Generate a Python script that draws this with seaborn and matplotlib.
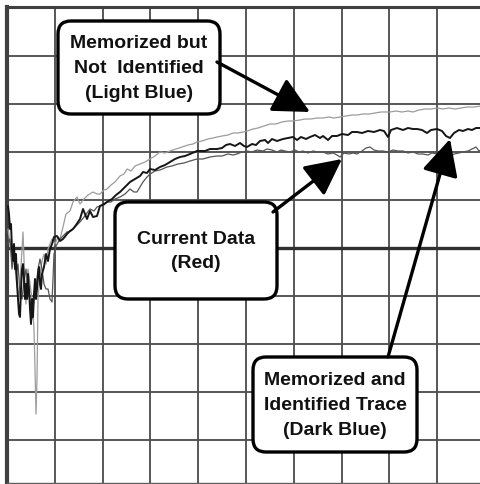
import pandas as pd
import seaborn as sns
import matplotlib
import matplotlib.pyplot as plt
from matplotlib.patches import FancyBboxPatch
from matplotlib.ticker import MultipleLocator

matplotlib.use('Agg')

# sample index across 10 divisions (47.8 samples/div), level 48 per division, 0 = reference line
light_trace = [(1, 19), (3, 4), (5, -11), (7, -6), (9, -31), (11, -41), (12, -51), (13, -36), (15, -1), (16, 16),
               (17, -11), (18, -41), (19, -56), (20, -31), (21, -21), (23, -36), (25, -51), (27, -81), (28, -121),
               (29, -166), (30, -131), (31, -51), (33, -26), (35, -13), (37, -6), (39, -16), (41, -1), (43, 4),
               (45, 9), (48, 4), (51, 11), (53, 9), (56, 21), (59, 34), (63, 37), (66, 46), (70, 51), (73, 44),
               (77, 49), (81, 53), (86, 56), (90, 54), (93, 54), (97, 58), (100, 59), (104, 63), (108, 66),
               (113, 72), (117, 74), (120, 79), (124, 77), (128, 82), (133, 84), (138, 86), (143, 89), (148, 92),
               (153, 96), (158, 95), (163, 97), (169, 99), (175, 101), (181, 103), (186, 104), (190, 106),
               (195, 107), (201, 109), (206, 110), (210, 111), (215, 112), (221, 113), (226, 115), (231, 115),
               (236, 116), (240, 117), (246, 119), (251, 120), (257, 122), (263, 124), (269, 124), (275, 126),
               (281, 127), (286, 127), (293, 128), (298, 129), (304, 129), (310, 130), (316, 130), (322, 131),
               (327, 130), (333, 131), (339, 132), (345, 133), (350, 133), (356, 134), (362, 134), (368, 135),
               (374, 136), (379, 136), (383, 136), (389, 137), (395, 136), (401, 137), (406, 136), (412, 138),
               (418, 139), (424, 139), (430, 140), (436, 139), (442, 140), (448, 139), (454, 140), (460, 141),
               (467, 141), (474, 142), (478, 142)]

dark_trace = [(1, 42), (2, 34), (3, 19), (4, 24), (5, -1), (6, -13), (7, 4), (8, -21), (9, -6), (10, -36),
              (11, -51), (12, -66), (13, -69), (14, -41), (15, -21), (16, -16), (17, -31), (18, -51), (19, -36),
              (20, -51), (21, -26), (22, -41), (23, -61), (24, -76), (25, -51), (26, -69), (27, -46), (28, -31),
              (29, -51), (30, -41), (31, -26), (32, -19), (33, -36), (34, -41), (35, -26), (37, -19), (39, -6),
              (41, -13), (43, -1), (45, 4), (47, 11), (50, 12), (53, 7), (56, 9), (60, 14), (63, 17), (66, 19),
              (69, 23), (73, 29), (76, 39), (80, 29), (83, 37), (86, 31), (90, 32), (93, 42), (97, 44), (100, 46),
              (105, 49), (109, 53), (113, 56), (118, 61), (123, 66), (128, 69), (133, 72), (136, 76), (140, 75),
              (143, 79), (148, 78), (153, 81), (158, 83), (163, 86), (168, 89), (173, 91), (178, 92), (183, 94),
              (190, 97), (198, 97), (203, 99), (210, 99), (215, 100), (219, 103), (223, 104), (228, 102),
              (233, 105), (237, 102), (240, 101), (245, 104), (249, 103), (253, 107), (258, 108), (261, 105),
              (265, 109), (270, 107), (276, 109), (281, 110), (286, 111), (290, 108), (294, 111), (299, 109),
              (303, 111), (308, 113), (313, 110), (316, 112), (321, 108), (325, 112), (330, 112), (335, 114),
              (341, 113), (345, 116), (350, 116), (355, 115), (361, 117), (367, 116), (373, 118), (377, 117),
              (381, 111), (384, 118), (390, 120), (396, 118), (401, 120), (406, 119), (410, 119), (415, 118),
              (420, 115), (424, 118), (430, 119), (435, 117), (439, 112), (443, 110), (447, 115), (452, 118),
              (456, 117), (461, 119), (465, 118), (469, 120), (474, 120), (478, 119)]

current_trace = [(1, 4), (3, 9), (5, -21), (7, -6), (9, -26), (11, -16), (13, -46), (15, -51), (17, -33),
                 (19, -21), (21, -41), (23, -51), (25, -71), (27, -51), (29, -41), (31, -21), (33, -11), (35, -21),
                 (37, -36), (39, -41), (41, -41), (43, -51), (45, -54), (46, -31), (47, -6), (49, 2), (53, 9),
                 (57, 13), (60, 16), (64, 17), (68, 21), (73, 26), (77, 31), (80, 35), (83, 39), (87, 37), (90, 41),
                 (93, 42), (97, 43), (100, 46), (104, 46), (108, 49), (113, 51), (118, 54), (123, 59), (127, 56),
                 (130, 56), (133, 61), (136, 66), (140, 71), (143, 74), (148, 77), (153, 78), (160, 81), (165, 82),
                 (171, 84), (177, 85), (183, 87), (190, 89), (196, 89), (203, 91), (210, 92), (215, 92), (221, 94),
                 (226, 93), (230, 94), (235, 96), (240, 97), (245, 96), (250, 98), (256, 97), (260, 99), (265, 98),
                 (270, 96), (274, 98), (278, 97), (283, 96), (288, 98), (292, 96), (296, 97), (301, 95), (306, 97),
                 (311, 96), (316, 96), (321, 94), (326, 95), (330, 93), (333, 91), (337, 95), (342, 94), (346, 95),
                 (350, 94), (355, 97), (359, 100), (363, 101), (367, 98), (371, 97), (376, 97), (381, 96),
                 (386, 98), (391, 97), (396, 97), (401, 95), (406, 96), (411, 94), (416, 94), (421, 93), (425, 95),
                 (430, 94), (434, 93), (438, 92), (443, 91), (447, 94), (452, 95), (456, 96), (461, 97), (465, 99),
                 (469, 101), (472, 97), (474, 98), (478, 99)]

sns.set_style('white')
plt.rcParams['font.family'] = ['Liberation Sans', 'DejaVu Sans']

fig = plt.figure(figsize=(4.81, 4.85), dpi=100)
ax = fig.add_axes([7 / 481, 1 / 485, 478 / 481, 476 / 485])

traces = [(light_trace, '#9c9c9c', 0.9),
          (current_trace, '#555555', 0.9),
          (dark_trace, '#151515', 1.4)]
for data, col, lw in traces:
    df = pd.DataFrame(data, columns=['sample', 'level'])
    sns.lineplot(data=df, x='sample', y='level', ax=ax, color=col, lw=lw,
                 sort=False, estimator=None, zorder=3)

ax.set_xlim(0, 478)
ax.set_ylim(-235, 241)
ax.xaxis.set_major_locator(MultipleLocator(47.8))
ax.yaxis.set_major_locator(MultipleLocator(48))
ax.grid(True, color='#4a4a4a', lw=1.3)
ax.set_axisbelow(True)
ax.tick_params(length=0, labelbottom=False, labelleft=False)
ax.set(xlabel='', ylabel='')
ax.axhline(0, color='#303030', lw=2.4, zorder=2)

ax.spines['right'].set_visible(False)
ax.spines['left'].set_color('#404040')
ax.spines['left'].set_linewidth(3.0)
ax.spines['top'].set_color('#404040')
ax.spines['top'].set_linewidth(2.2)
ax.spines['bottom'].set_color('#606060')
ax.spines['bottom'].set_linewidth(1.0)

# callout boxes: (x0, y0, w, h, text)
boxes = [(51, 134, 162, 93, 'Memorized but\nNot  Identified\n(Light Blue)'),
         (108, -51, 162, 97, 'Current Data\n(Red)'),
         (246, -204, 164, 95, 'Memorized and\nIdentified Trace\n(Dark Blue)')]
for x0, y0, w, h, txt in boxes:
    ax.add_patch(FancyBboxPatch((x0, y0), w, h, boxstyle='round,pad=0,rounding_size=13',
                                lw=2.4, ec='black', fc='white', zorder=5))
    ax.text(x0 + w / 2, y0 + h / 2, txt, ha='center', va='center', fontsize=14,
            fontweight='bold', linespacing=1.6, color='#111111', zorder=6)

# arrows: start on box, tip on trace
arrows = [((210, 186), (303, 136)),
          ((266, 36), (335, 89)),
          ((381, -109), (443, 109))]
for start, tip in arrows:
    ax.annotate('', xy=tip, xytext=start, zorder=6,
                arrowprops=dict(arrowstyle='-|>,head_length=0.9,head_width=0.45',
                                mutation_scale=25, lw=2.4, color='black',
                                shrinkA=0, shrinkB=0))

fig.savefig('out.png', dpi=100)
